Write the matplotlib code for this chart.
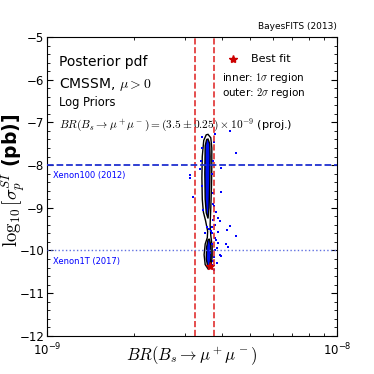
import numpy as np
import matplotlib
matplotlib.use("Agg")
import matplotlib.pyplot as plt
from matplotlib.ticker import MultipleLocator, NullFormatter

# x values in units of 1e-9, y values are log10(sigma_p^SI / pb)
bf_x, bf_y = 3.65, -10.37

outer_x = [3.54, 3.47, 3.43, 3.42, 3.43, 3.46, 3.52, 3.58, 3.57, 3.51, 3.48, 3.51,
           3.59, 3.67, 3.71, 3.71, 3.67, 3.65, 3.67, 3.69, 3.70, 3.70, 3.67, 3.59]
outer_y = [-7.29, -7.42, -7.80, -8.30, -8.80, -9.10, -9.30, -9.55, -9.70, -9.85, -10.10, -10.33,
           -10.43, -10.40, -10.15, -9.90, -9.65, -9.40, -9.00, -8.50, -8.00, -7.60, -7.36, -7.28]

inner_upper_x = [3.55, 3.51, 3.50, 3.51, 3.54, 3.59, 3.62, 3.64, 3.65, 3.64, 3.59]
inner_upper_y = [-7.40, -7.55, -8.20, -8.80, -9.12, -9.25, -9.00, -8.40, -7.80, -7.50, -7.39]
inner_lower_x = [3.59, 3.55, 3.54, 3.58, 3.64, 3.68, 3.67, 3.63]
inner_lower_y = [-9.75, -9.92, -10.20, -10.36, -10.36, -10.15, -9.88, -9.73]

pts_x = [4.28, 3.80, 4.48, 3.97, 3.11, 3.10, 3.19, 3.97, 3.90, 3.95, 4.28, 4.17, 4.47,
         3.90, 4.14, 4.21, 3.85, 3.95, 3.99, 3.90, 3.74, 3.40, 3.38, 3.42, 3.72, 3.75,
         3.41, 3.73, 3.76, 3.82, 3.45, 3.78, 3.72, 3.80, 3.74, 3.87, 3.77, 3.42, 3.74,
         3.70, 3.76, 3.50, 3.55, 3.71, 3.79, 3.84, 3.73, 3.69, 3.72, 3.61, 3.66, 3.75]
pts_y = [-7.19, -7.27, -7.72, -8.07, -8.23, -8.31, -8.75, -8.62, -9.25, -9.32, -9.42, -9.52, -9.65,
         -9.56, -9.85, -9.91, -9.95, -10.10, -10.14, -9.83, -9.28, -7.90, -8.10, -8.50, -8.20, -7.45,
         -7.60, -7.90, -8.95, -9.10, -9.05, -9.70, -9.60, -10.00, -10.25, -10.30, -10.45, -7.35, -8.65,
         -9.45, -9.20, -9.60, -9.45, -10.35, -9.40, -9.75, -8.90, -9.55, -9.85, -9.50, -10.05, -10.15]

br_lo, br_hi = 3.25, 3.75
xenon100 = -8.0
xenon1t = -10.0

fig = plt.figure(figsize=(3.74, 3.74), dpi=100)
ax = fig.add_axes([0.126, 0.102, 0.775, 0.799])
s = 1e-9

ax.fill(np.array(outer_x) * s, outer_y, facecolor='white', edgecolor='black', lw=1.0, zorder=2)
for ix, iy in [(inner_upper_x, inner_upper_y), (inner_lower_x, inner_lower_y)]:
    ax.fill(np.array(ix) * s, iy, facecolor='#0010f0', edgecolor='black', lw=1.0, zorder=3)
ax.scatter(np.array(pts_x) * s, pts_y, s=2, color='blue', marker='s', lw=0, zorder=3)
ax.plot(bf_x * s, bf_y, marker='*', color='#cc0000', ms=6, zorder=5)

ax.axvline(br_lo * s, color='#e03030', ls='--', lw=1.2, zorder=5)
ax.axvline(br_hi * s, color='#e03030', ls='--', lw=1.2, zorder=5)
ax.axhline(xenon100, color='#2030d0', ls='--', lw=1.3, zorder=5)
ax.axhline(xenon1t, color='#6070e0', ls=':', lw=1.0, zorder=5)

ax.set_xscale('log')
ax.set_xlim(1e-9, 1e-8)
ax.set_ylim(-12, -5)
ax.xaxis.set_minor_formatter(NullFormatter())
ax.yaxis.set_major_locator(MultipleLocator(1))
ax.yaxis.set_minor_locator(MultipleLocator(0.2))
ax.tick_params(which='both', direction='in', top=True, right=True, labelsize=8.5)
ax.tick_params(which='major', length=4)
ax.tick_params(which='minor', length=2)
ax.tick_params(axis='x', pad=4)
ax.tick_params(axis='y', pad=2)

ax.set_xlabel(r'$BR(B_s\rightarrow\mu^+\mu^-)$', fontsize=12, math_fontfamily='cm', va='center')
ax.xaxis.set_label_coords(0.5, -0.066)
ax.set_ylabel(r'$\log_{10}[\sigma_p^{SI}$ (pb)]', fontsize=13.5, fontweight='bold',
              math_fontfamily='cm', va='center')
ax.yaxis.set_label_coords(-0.116, 0.52)

tr = ax.transAxes
ax.text(0.04, 0.915, 'Posterior pdf', transform=tr, fontsize=10, va='center')
ax.text(0.04, 0.84, r'CMSSM, $\mu>0$', transform=tr, fontsize=10, va='center', math_fontfamily='cm')
ax.text(0.04, 0.78, 'Log Priors', transform=tr, fontsize=8.3, va='center')
ax.text(0.04, 0.705, r'$BR(B_s\rightarrow\mu^+\mu^-)=(3.5\pm0.25)\times10^{-9}$ (proj.)',
        transform=tr, fontsize=8.2, va='center', math_fontfamily='cm')
ax.plot([0.64], [0.925], transform=tr, marker='*', color='#cc0000', ms=6, ls='none')
ax.text(0.705, 0.925, 'Best fit', transform=tr, fontsize=8, va='center')
ax.text(0.605, 0.862, r'inner: $1\sigma$ region', transform=tr, fontsize=7.5, va='center',
        math_fontfamily='cm')
ax.text(0.605, 0.812, r'outer: $2\sigma$ region', transform=tr, fontsize=7.5, va='center',
        math_fontfamily='cm')
ax.text(1.0, 1.02, 'BayesFITS (2013)', transform=tr, fontsize=6.5, ha='right', va='bottom')
ax.text(0.02, -8.25, 'Xenon100 (2012)', transform=ax.get_yaxis_transform(), fontsize=6,
        color='blue', va='center')
ax.text(0.02, -10.27, 'Xenon1T (2017)', transform=ax.get_yaxis_transform(), fontsize=6,
        color='blue', va='center')

fig.savefig('out.png', dpi=100)
